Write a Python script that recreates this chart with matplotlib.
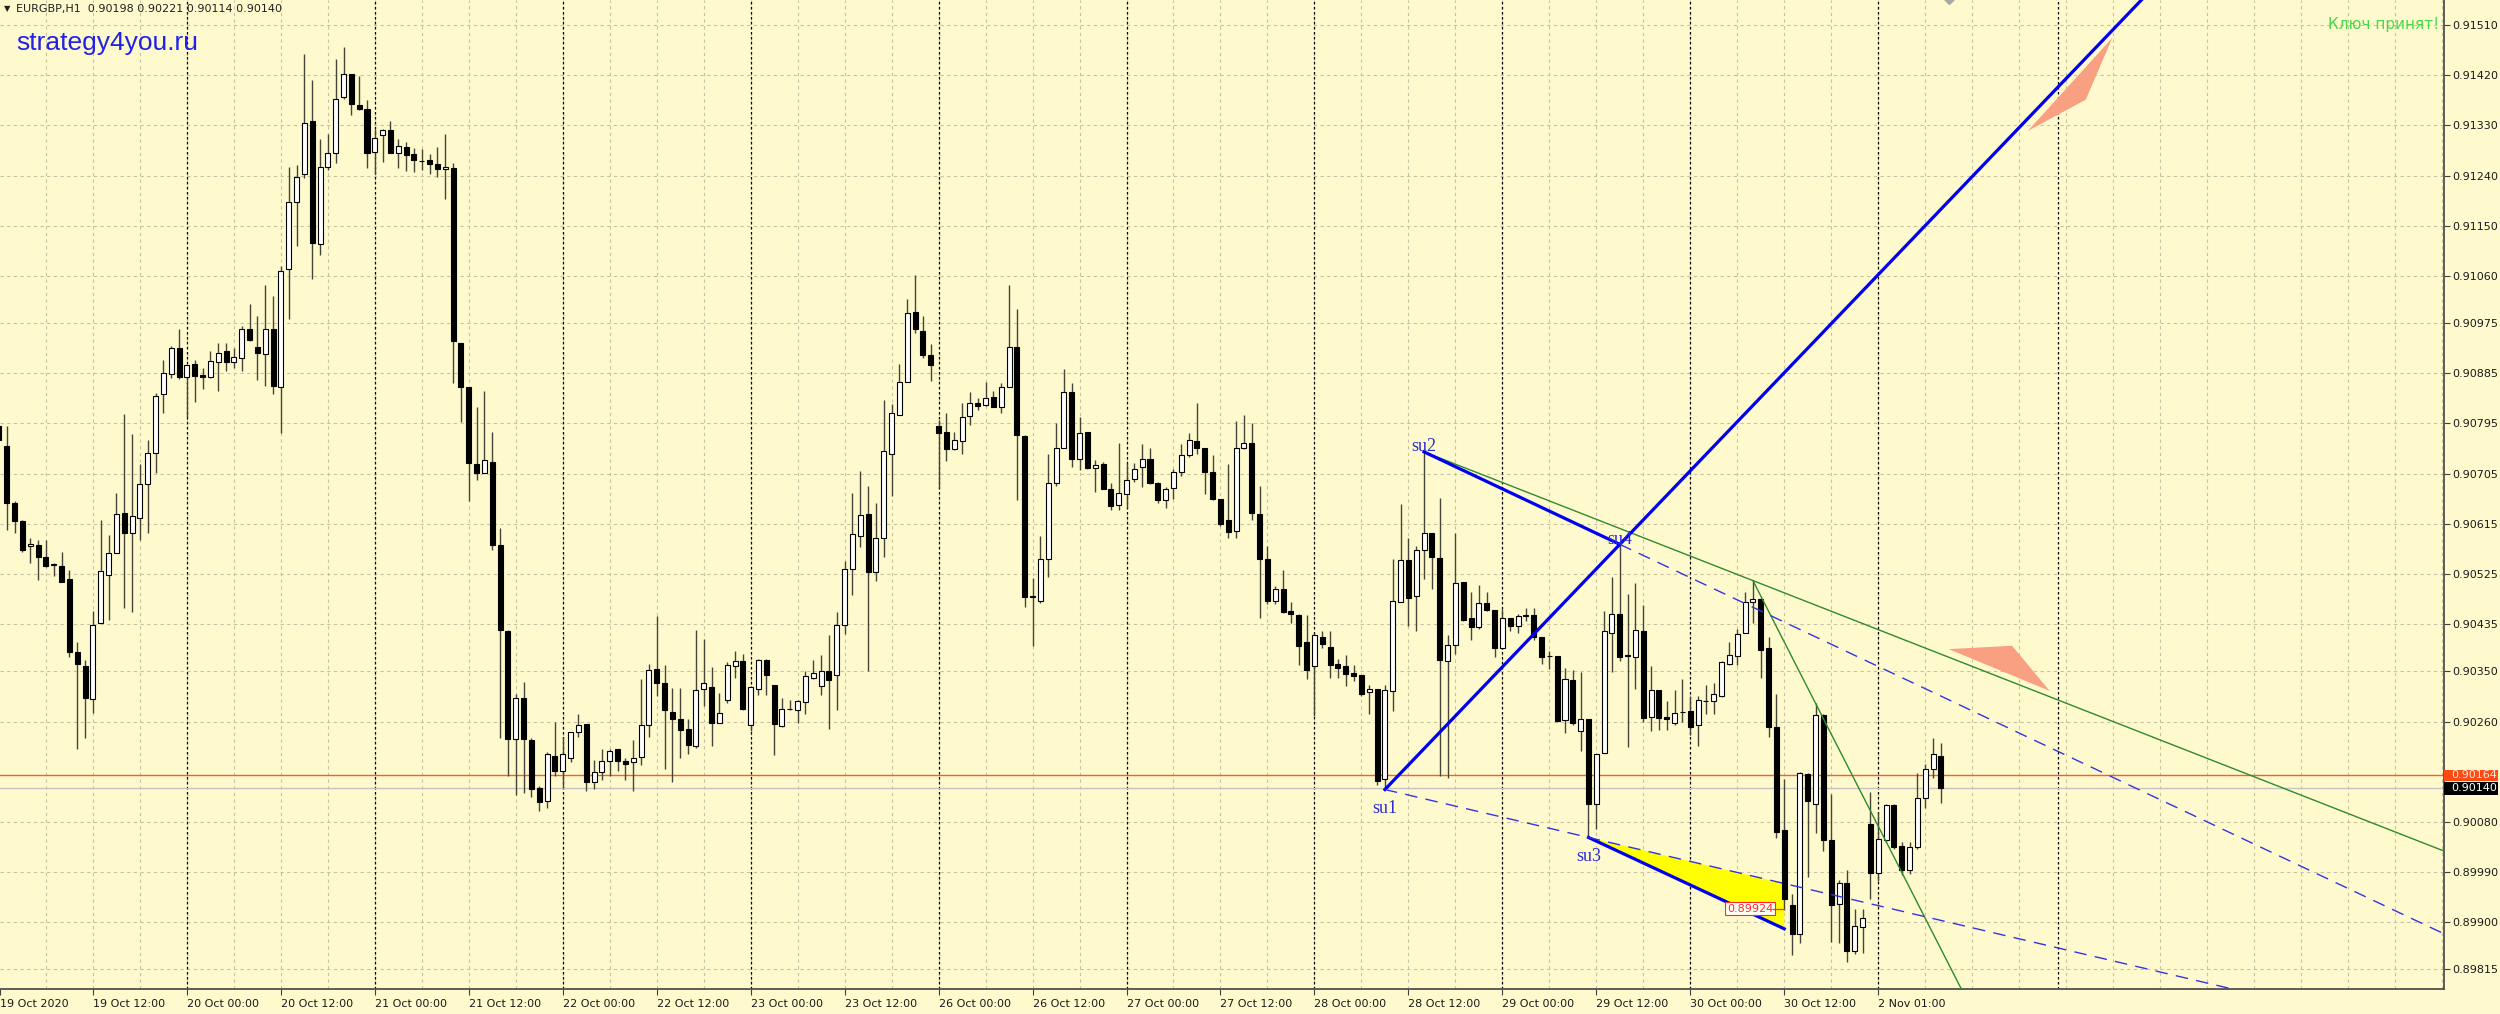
import numpy as np
import matplotlib.pyplot as plt
from matplotlib.patches import Polygon, Rectangle

# EURGBP H1, bar index 0 = 19 Oct 2020 00:00
opens = [0.90790, 0.90755, 0.90653, 0.90620, 0.90575, 0.90577, 0.90555, 0.90541, 0.90539, 0.90516,
         0.90385, 0.90360, 0.90300, 0.90437, 0.90523, 0.90563, 0.90635, 0.90599, 0.90626, 0.90686,
         0.90742, 0.90847, 0.90883, 0.90930, 0.90878, 0.90901, 0.90882, 0.90878, 0.90905, 0.90925,
         0.90905, 0.90912, 0.90964, 0.90932, 0.90919, 0.90965, 0.90861, 0.91072, 0.91193, 0.91242,
         0.91338, 0.91117, 0.91255, 0.91280, 0.91381, 0.91423, 0.91367, 0.91360, 0.91282, 0.91312,
         0.91321, 0.91280, 0.91291, 0.91278, 0.91266, 0.91268, 0.91260, 0.91251, 0.91254, 0.90940,
         0.90860, 0.90722, 0.90706, 0.90726, 0.90577, 0.90422, 0.90229, 0.90302, 0.90227, 0.90141,
         0.90118, 0.90199, 0.90171, 0.90194, 0.90241, 0.90255, 0.90151, 0.90169, 0.90189, 0.90211,
         0.90189, 0.90187, 0.90197, 0.90253, 0.90354, 0.90329, 0.90278, 0.90265, 0.90247, 0.90216,
         0.90318, 0.90322, 0.90258, 0.90298, 0.90360, 0.90369, 0.90254, 0.90318, 0.90370, 0.90326,
         0.90252, 0.90282, 0.90280, 0.90295, 0.90339, 0.90324, 0.90350, 0.90343, 0.90433, 0.90534,
         0.90593, 0.90633, 0.90528, 0.90589, 0.90740, 0.90810, 0.90870, 0.90995, 0.90961, 0.90918,
         0.90791, 0.90780, 0.90750, 0.90764, 0.90808, 0.90832, 0.90829, 0.90843, 0.90824, 0.90860,
         0.90933, 0.90772, 0.90484, 0.90477, 0.90551, 0.90688, 0.90751, 0.90852, 0.90731, 0.90779,
         0.90715, 0.90723, 0.90678, 0.90648, 0.90669, 0.90695, 0.90717, 0.90731, 0.90688, 0.90657,
         0.90679, 0.90707, 0.90738, 0.90764, 0.90751, 0.90708, 0.90659, 0.90621, 0.90602, 0.90751,
         0.90760, 0.90633, 0.90551, 0.90477, 0.90497, 0.90458, 0.90451, 0.90402, 0.90359, 0.90412,
         0.90394, 0.90364, 0.90359, 0.90348, 0.90343, 0.90313, 0.90319, 0.90157, 0.90314, 0.90474,
         0.90550, 0.90485, 0.90568, 0.90598, 0.90553, 0.90369, 0.90398, 0.90510, 0.90445, 0.90429,
         0.90473, 0.90460, 0.90392, 0.90445, 0.90431, 0.90450, 0.90452, 0.90412, 0.90377, 0.90378,
         0.90263, 0.90334, 0.90243, 0.90265, 0.90112, 0.90203, 0.90419, 0.90453, 0.90378, 0.90376,
         0.90422, 0.90268, 0.90316, 0.90268, 0.90258, 0.90277, 0.90279, 0.90253, 0.90296, 0.90296,
         0.90306, 0.90364, 0.90378, 0.90419, 0.90474, 0.90480, 0.90392, 0.90250, 0.90066, 0.89930,
         0.89878, 0.90165, 0.90112, 0.90271, 0.90047, 0.89933, 0.89971, 0.89848, 0.89891, 0.90077,
         0.89989, 0.90047, 0.90110, 0.90037, 0.89994, 0.90034, 0.90122, 0.90175, 0.90198]
highs = [0.90814, 0.90791, 0.90655, 0.90622, 0.90590, 0.90586, 0.90586, 0.90545, 0.90565, 0.90532,
         0.90403, 0.90370, 0.90458, 0.90622, 0.90595, 0.90671, 0.90812, 0.90776, 0.90722, 0.90766,
         0.90849, 0.90909, 0.90934, 0.90964, 0.90900, 0.90909, 0.90894, 0.90925, 0.90939, 0.90939,
         0.90930, 0.90970, 0.91010, 0.90988, 0.91043, 0.91023, 0.91077, 0.91255, 0.91258, 0.91458,
         0.91412, 0.91305, 0.91314, 0.91449, 0.91470, 0.91423, 0.91419, 0.91376, 0.91323, 0.91323,
         0.91338, 0.91305, 0.91300, 0.91289, 0.91287, 0.91278, 0.91291, 0.91314, 0.91263, 0.90940,
         0.90860, 0.90824, 0.90854, 0.90780, 0.90608, 0.90425, 0.90310, 0.90331, 0.90230, 0.90145,
         0.90206, 0.90260, 0.90233, 0.90242, 0.90273, 0.90255, 0.90191, 0.90211, 0.90211, 0.90211,
         0.90194, 0.90226, 0.90336, 0.90364, 0.90449, 0.90362, 0.90321, 0.90321, 0.90264, 0.90424,
         0.90409, 0.90358, 0.90312, 0.90367, 0.90387, 0.90381, 0.90324, 0.90372, 0.90372, 0.90326,
         0.90302, 0.90298, 0.90298, 0.90350, 0.90370, 0.90379, 0.90415, 0.90456, 0.90549, 0.90671,
         0.90709, 0.90683, 0.90652, 0.90837, 0.90830, 0.90902, 0.91018, 0.91062, 0.90987, 0.90937,
         0.90802, 0.90813, 0.90779, 0.90832, 0.90851, 0.90841, 0.90870, 0.90854, 0.90868, 0.91043,
         0.91001, 0.90774, 0.90518, 0.90593, 0.90741, 0.90796, 0.90892, 0.90867, 0.90806, 0.90779,
         0.90729, 0.90726, 0.90688, 0.90760, 0.90724, 0.90724, 0.90758, 0.90751, 0.90690, 0.90681,
         0.90714, 0.90758, 0.90777, 0.90832, 0.90751, 0.90738, 0.90659, 0.90722, 0.90799, 0.90811,
         0.90795, 0.90683, 0.90575, 0.90504, 0.90532, 0.90475, 0.90453, 0.90452, 0.90419, 0.90422,
         0.90422, 0.90372, 0.90379, 0.90362, 0.90343, 0.90326, 0.90319, 0.90326, 0.90552, 0.90650,
         0.90590, 0.90575, 0.90743, 0.90598, 0.90661, 0.90416, 0.90598, 0.90510, 0.90492, 0.90505,
         0.90493, 0.90460, 0.90462, 0.90445, 0.90453, 0.90464, 0.90464, 0.90412, 0.90386, 0.90378,
         0.90356, 0.90352, 0.90349, 0.90265, 0.90201, 0.90459, 0.90520, 0.90578, 0.90489, 0.90508,
         0.90469, 0.90359, 0.90316, 0.90296, 0.90316, 0.90336, 0.90306, 0.90306, 0.90326, 0.90329,
         0.90369, 0.90402, 0.90426, 0.90492, 0.90513, 0.90482, 0.90412, 0.90309, 0.90157, 0.89950,
         0.90170, 0.90167, 0.90293, 0.90273, 0.90130, 0.89976, 0.89993, 0.89924, 0.89924, 0.90133,
         0.90097, 0.90112, 0.90112, 0.90044, 0.90044, 0.90167, 0.90183, 0.90230, 0.90221]
lows = [0.90750, 0.90604, 0.90599, 0.90565, 0.90544, 0.90514, 0.90537, 0.90521, 0.90510, 0.90376,
        0.90211, 0.90230, 0.90276, 0.90437, 0.90443, 0.90563, 0.90463, 0.90456, 0.90586, 0.90599,
        0.90706, 0.90814, 0.90876, 0.90874, 0.90806, 0.90834, 0.90856, 0.90876, 0.90854, 0.90889,
        0.90894, 0.90889, 0.90943, 0.90873, 0.90863, 0.90847, 0.90778, 0.90983, 0.91113, 0.91235,
        0.91055, 0.91098, 0.91250, 0.91262, 0.91378, 0.91348, 0.91358, 0.91253, 0.91242, 0.91264,
        0.91280, 0.91253, 0.91248, 0.91247, 0.91249, 0.91242, 0.91238, 0.91198, 0.90867, 0.90798,
        0.90655, 0.90693, 0.90706, 0.90568, 0.90230, 0.90162, 0.90128, 0.90131, 0.90125, 0.90100,
        0.90105, 0.90162, 0.90141, 0.90187, 0.90233, 0.90135, 0.90139, 0.90155, 0.90162, 0.90171,
        0.90155, 0.90135, 0.90182, 0.90233, 0.90305, 0.90175, 0.90152, 0.90195, 0.90202, 0.90212,
        0.90288, 0.90216, 0.90258, 0.90293, 0.90338, 0.90281, 0.90243, 0.90308, 0.90308, 0.90200,
        0.90250, 0.90281, 0.90258, 0.90274, 0.90336, 0.90308, 0.90247, 0.90281, 0.90417, 0.90488,
        0.90573, 0.90351, 0.90513, 0.90556, 0.90664, 0.90810, 0.90870, 0.90957, 0.90913, 0.90872,
        0.90679, 0.90727, 0.90747, 0.90740, 0.90793, 0.90820, 0.90827, 0.90824, 0.90813, 0.90860,
        0.90657, 0.90466, 0.90396, 0.90473, 0.90520, 0.90683, 0.90751, 0.90717, 0.90712, 0.90714,
        0.90672, 0.90678, 0.90640, 0.90640, 0.90644, 0.90690, 0.90681, 0.90686, 0.90653, 0.90644,
        0.90659, 0.90701, 0.90734, 0.90740, 0.90669, 0.90657, 0.90611, 0.90589, 0.90589, 0.90749,
        0.90621, 0.90446, 0.90471, 0.90471, 0.90454, 0.90436, 0.90362, 0.90336, 0.90270, 0.90392,
        0.90339, 0.90339, 0.90323, 0.90333, 0.90306, 0.90273, 0.90147, 0.90140, 0.90279, 0.90474,
        0.90432, 0.90422, 0.90515, 0.90497, 0.90163, 0.90159, 0.90382, 0.90440, 0.90406, 0.90426,
        0.90459, 0.90376, 0.90391, 0.90422, 0.90419, 0.90440, 0.90407, 0.90364, 0.90354, 0.90260,
        0.90240, 0.90253, 0.90208, 0.90051, 0.90067, 0.90203, 0.90349, 0.90369, 0.90214, 0.90318,
        0.90260, 0.90243, 0.90245, 0.90245, 0.90254, 0.90260, 0.90236, 0.90217, 0.90274, 0.90273,
        0.90304, 0.90362, 0.90362, 0.90419, 0.90437, 0.90339, 0.90233, 0.90051, 0.89922, 0.89841,
        0.89863, 0.89981, 0.90060, 0.90027, 0.89865, 0.89863, 0.89828, 0.89843, 0.89845, 0.89941,
        0.89974, 0.90044, 0.90031, 0.89984, 0.89987, 0.90031, 0.90104, 0.90159, 0.90114]
closes = [0.90765, 0.90653, 0.90620, 0.90568, 0.90579, 0.90555, 0.90539, 0.90542, 0.90510, 0.90385,
          0.90363, 0.90302, 0.90434, 0.90530, 0.90563, 0.90632, 0.90599, 0.90629, 0.90686, 0.90742,
          0.90845, 0.90885, 0.90931, 0.90878, 0.90900, 0.90881, 0.90878, 0.90907, 0.90922, 0.90905,
          0.90914, 0.90965, 0.90945, 0.90921, 0.90964, 0.90863, 0.91068, 0.91193, 0.91238, 0.91334,
          0.91119, 0.91255, 0.91280, 0.91378, 0.91423, 0.91369, 0.91360, 0.91280, 0.91307, 0.91321,
          0.91280, 0.91293, 0.91276, 0.91267, 0.91266, 0.91260, 0.91251, 0.91255, 0.90943, 0.90860,
          0.90724, 0.90706, 0.90729, 0.90577, 0.90425, 0.90229, 0.90302, 0.90229, 0.90139, 0.90115,
          0.90201, 0.90171, 0.90201, 0.90241, 0.90253, 0.90151, 0.90169, 0.90189, 0.90208, 0.90189,
          0.90183, 0.90194, 0.90254, 0.90352, 0.90329, 0.90280, 0.90264, 0.90245, 0.90218, 0.90317,
          0.90329, 0.90258, 0.90276, 0.90362, 0.90369, 0.90282, 0.90322, 0.90370, 0.90343, 0.90255,
          0.90282, 0.90282, 0.90296, 0.90341, 0.90348, 0.90351, 0.90335, 0.90433, 0.90534, 0.90596,
          0.90631, 0.90528, 0.90589, 0.90745, 0.90813, 0.90870, 0.90993, 0.90964, 0.90918, 0.90900,
          0.90778, 0.90750, 0.90765, 0.90806, 0.90832, 0.90827, 0.90841, 0.90824, 0.90861, 0.90933,
          0.90774, 0.90484, 0.90484, 0.90552, 0.90688, 0.90751, 0.90852, 0.90731, 0.90777, 0.90715,
          0.90721, 0.90678, 0.90646, 0.90671, 0.90694, 0.90714, 0.90731, 0.90688, 0.90657, 0.90678,
          0.90708, 0.90738, 0.90765, 0.90751, 0.90708, 0.90659, 0.90614, 0.90600, 0.90751, 0.90760,
          0.90635, 0.90552, 0.90477, 0.90497, 0.90456, 0.90453, 0.90396, 0.90352, 0.90416, 0.90399,
          0.90362, 0.90357, 0.90346, 0.90341, 0.90309, 0.90319, 0.90153, 0.90316, 0.90477, 0.90550,
          0.90482, 0.90568, 0.90598, 0.90555, 0.90371, 0.90398, 0.90508, 0.90442, 0.90429, 0.90473,
          0.90460, 0.90392, 0.90445, 0.90431, 0.90450, 0.90450, 0.90412, 0.90376, 0.90378, 0.90261,
          0.90336, 0.90258, 0.90265, 0.90112, 0.90201, 0.90422, 0.90453, 0.90376, 0.90378, 0.90424,
          0.90266, 0.90316, 0.90266, 0.90264, 0.90276, 0.90278, 0.90250, 0.90298, 0.90297, 0.90309,
          0.90366, 0.90379, 0.90418, 0.90475, 0.90480, 0.90389, 0.90250, 0.90062, 0.89941, 0.89878,
          0.90167, 0.90117, 0.90271, 0.90047, 0.89931, 0.89971, 0.89848, 0.89893, 0.89908, 0.89989,
          0.90049, 0.90110, 0.90034, 0.89994, 0.90034, 0.90122, 0.90175, 0.90201, 0.90140]

price_ticks = [0.91510, 0.91420, 0.91330, 0.91240, 0.91150, 0.91060, 0.90975, 0.90885, 0.90795,
               0.90705, 0.90615, 0.90525, 0.90435, 0.90350, 0.90260, 0.90080, 0.89990, 0.89900, 0.89815]
time_ticks = [12, 24, 36, 48, 60, 72, 84, 96, 108, 120, 132, 144, 156, 168, 180, 192, 204, 216, 228, 240]
time_labels = ['19 Oct 12:00', '20 Oct 00:00', '20 Oct 12:00', '21 Oct 00:00', '21 Oct 12:00',
               '22 Oct 00:00', '22 Oct 12:00', '23 Oct 00:00', '23 Oct 12:00', '26 Oct 00:00',
               '26 Oct 12:00', '27 Oct 00:00', '27 Oct 12:00', '28 Oct 00:00', '28 Oct 12:00',
               '29 Oct 00:00', '29 Oct 12:00', '30 Oct 00:00', '30 Oct 12:00', '2 Nov 01:00']
day_starts = [24, 48, 72, 96, 120, 144, 168, 192, 216, 240, 263]

# pattern points
su_names = ['su1', 'su2', 'su3', 'su4']
su_bar = [177, 182, 203, 207]
su_price = [0.90138, 0.90744, 0.90052, 0.90578]
su_label_shift = [-0.00034, 0.00010, -0.00035, 0.00009]
tri_bar, tri_low = 228, 0.89888
green_pivot = (224, 0.90513)
green_steep = (250, 0.89797)
salmon_top = [(259.1, 0.91320), (266.5, 0.91376), (269.9, 0.91487)]
salmon_mid = [(249.0, 0.90390), (257.1, 0.90396), (261.9, 0.90315)]
bid, level = 0.90140, 0.90164
mark_price = 0.89924

BG = '#FFFACD'
GRID = '#C9C2A2'
BLUE = '#0000F0'

x_lo, x_hi = 0.13, 312.26
y_lo, y_hi = 0.89780, 0.91555

fig = plt.figure(figsize=(25, 10.14), dpi=100, facecolor=BG)
ax = fig.add_axes([0, 1 - 989 / 1014, 2444 / 2500, 989 / 1014], facecolor=BG)

# grid + separators
for g in np.arange(6, x_hi, 6):
    ax.axvline(g, color=GRID, lw=0.8, ls=(0, (3, 3)), zorder=0)
for v in price_ticks:
    ax.axhline(v, color=GRID, lw=0.8, ls=(0, (3, 3)), zorder=0)
for s in day_starts:
    ax.axvline(s, color='black', lw=0.9, ls=(0, (2, 2)), zorder=1)

# candles
o, h, l, c = (np.array(a) for a in (opens, highs, lows, closes))
x = np.arange(len(o))
up = c >= o
ax.vlines(x, l, h, color='#45453a', lw=1, zorder=2)
bot = np.minimum(o, c)
hgt = np.maximum(np.abs(c - o), 0.000008)
ax.bar(x[up], hgt[up], bottom=bot[up], width=0.64, facecolor='white', edgecolor='black', lw=0.8, zorder=3)
ax.bar(x[~up], hgt[~up], bottom=bot[~up], width=0.64, facecolor='black', edgecolor='black', lw=0.8, zorder=3)

# price lines
ax.axhline(level, color='#FF5a28', lw=1, zorder=1.5)
ax.axhline(bid, color='#C4C4C4', lw=1, zorder=1.5)

# yellow triangle
p1, p2, p3, p4 = su_price
b1, b2, b3, b4 = su_bar
k13 = (p3 - p1) / (b3 - b1)
k24 = (p4 - p2) / (b4 - b2)
k14 = (p4 - p1) / (b4 - b1)
ax.add_patch(Polygon([(b3, p3), (tri_bar, tri_low), (tri_bar, p1 + k13 * (tri_bar - b1))],
                     closed=True, facecolor='#FFFF00', edgecolor='none', zorder=1.6))

# blue lines
ax.plot([b1, x_hi + 5], [p1, p1 + k14 * (x_hi + 5 - b1)], color=BLUE, lw=2.3, zorder=5)
ax.plot([b2, b4], [p2, p4], color=BLUE, lw=2.3, zorder=5)
ax.plot([b3, tri_bar], [p3, tri_low], color=BLUE, lw=2.3, zorder=5)
ax.plot([b1, x_hi], [p1, p1 + k13 * (x_hi - b1)], color='#3434E0', lw=1, ls=(0, (9, 6)), zorder=5)
ax.plot([b4, x_hi], [p4, p4 + k24 * (x_hi - b4)], color='#3434E0', lw=1, ls=(0, (9, 6)), zorder=5)

# green lines
gb, gp = green_pivot
kg1 = (gp - p2) / (gb - b2)
kg2 = (green_steep[1] - gp) / (green_steep[0] - gb)
ax.plot([b2, x_hi], [p2, p2 + kg1 * (x_hi - b2)], color='#2E8B2E', lw=1, zorder=4.5)
ax.plot([gb, gb + 40], [gp, gp + kg2 * 40], color='#2E8B2E', lw=1, zorder=4.5)

# salmon arrows
for tri in (salmon_top, salmon_mid):
    ax.add_patch(Polygon(tri, closed=True, facecolor='#F9A082', edgecolor='none', zorder=4))

# grey arrow cut at the top edge
ax.plot(249, y_hi + 0.00006, marker='D', ms=7, color='#A8A8A8', zorder=4)

for name, b, p, d in zip(su_names, su_bar, su_price, su_label_shift):
    ax.text(b, p + d, name, ha='center', va='center', color='#2B2BD6',
            family='Liberation Serif', fontsize=13, zorder=6)

ax.text(226.6, mark_price, '0.89924', ha='right', va='center', color='#FF2A2A', fontsize=8, zorder=7,
        bbox=dict(boxstyle='square,pad=0.15', facecolor='#FFFFF4', edgecolor='#FF2A2A', lw=0.8))
ax.plot([226.6, tri_bar], [mark_price, mark_price], color='#FF2A2A', lw=0.9, zorder=7)

ax.set_xlim(x_lo, x_hi)
ax.set_ylim(y_lo, y_hi)

# axes styling
for side in ('top', 'left'):
    ax.spines[side].set_visible(False)
for side in ('right', 'bottom'):
    ax.spines[side].set_color('#505050')
    ax.spines[side].set_linewidth(1.3)

ax.yaxis.tick_right()
ax.set_yticks(price_ticks)
ax.set_yticklabels([f'{v:.5f}' for v in price_ticks])
ax.tick_params(axis='y', length=4, width=0.8, color='#404040', labelsize=8, pad=2, labelcolor='#1a1a1a')
ax.set_xticks([x_lo] + time_ticks)
ax.set_xticklabels(['19 Oct 2020'] + time_labels)
ax.tick_params(axis='x', length=4, width=0.8, color='#404040', labelsize=8, pad=3, labelcolor='#1a1a1a')
for lbl in ax.get_xticklabels():
    lbl.set_ha('left')

# axis price boxes
ytr = ax.get_yaxis_transform()
ax.add_patch(Rectangle((1.0, level - 0.000099), 54 / 2444, 0.000198, transform=ytr,
                       facecolor='#FF4a14', edgecolor='none', clip_on=False, zorder=8))
ax.text(1.003, level, f'{level:.5f}', transform=ytr, ha='left', va='center', fontsize=8,
        color='#FFE6D8', clip_on=False, zorder=9)
ax.add_patch(Rectangle((1.0, bid - 0.000120), 54 / 2444, 0.000240, transform=ytr,
                       facecolor='black', edgecolor='none', clip_on=False, zorder=8))
ax.text(1.003, bid, f'{bid:.5f}', transform=ytr, ha='left', va='center', fontsize=8,
        color='white', clip_on=False, zorder=9)

# header texts
fig.text(4 / 2500, 1 - 9 / 1014, '\u25bc', fontsize=6, va='center', ha='left', color='#202020')
fig.text(16 / 2500, 1 - 9 / 1014,
         f'EURGBP,H1  {opens[-1]:.5f} {highs[-1]:.5f} {lows[-1]:.5f} {closes[-1]:.5f}',
         fontsize=8, va='center', ha='left', color='#202020')
fig.text(16 / 2500, 1 - 43 / 1014, 'strategy4you.ru', fontsize=19, va='center', ha='left',
         color='#2222E6', family='Liberation Sans')
fig.text(2439 / 2500, 1 - 24 / 1014, 'Ключ принят!', fontsize=11, va='center', ha='right',
         color='#4CD64C')

fig.savefig('out.png', dpi=100, facecolor=BG)
